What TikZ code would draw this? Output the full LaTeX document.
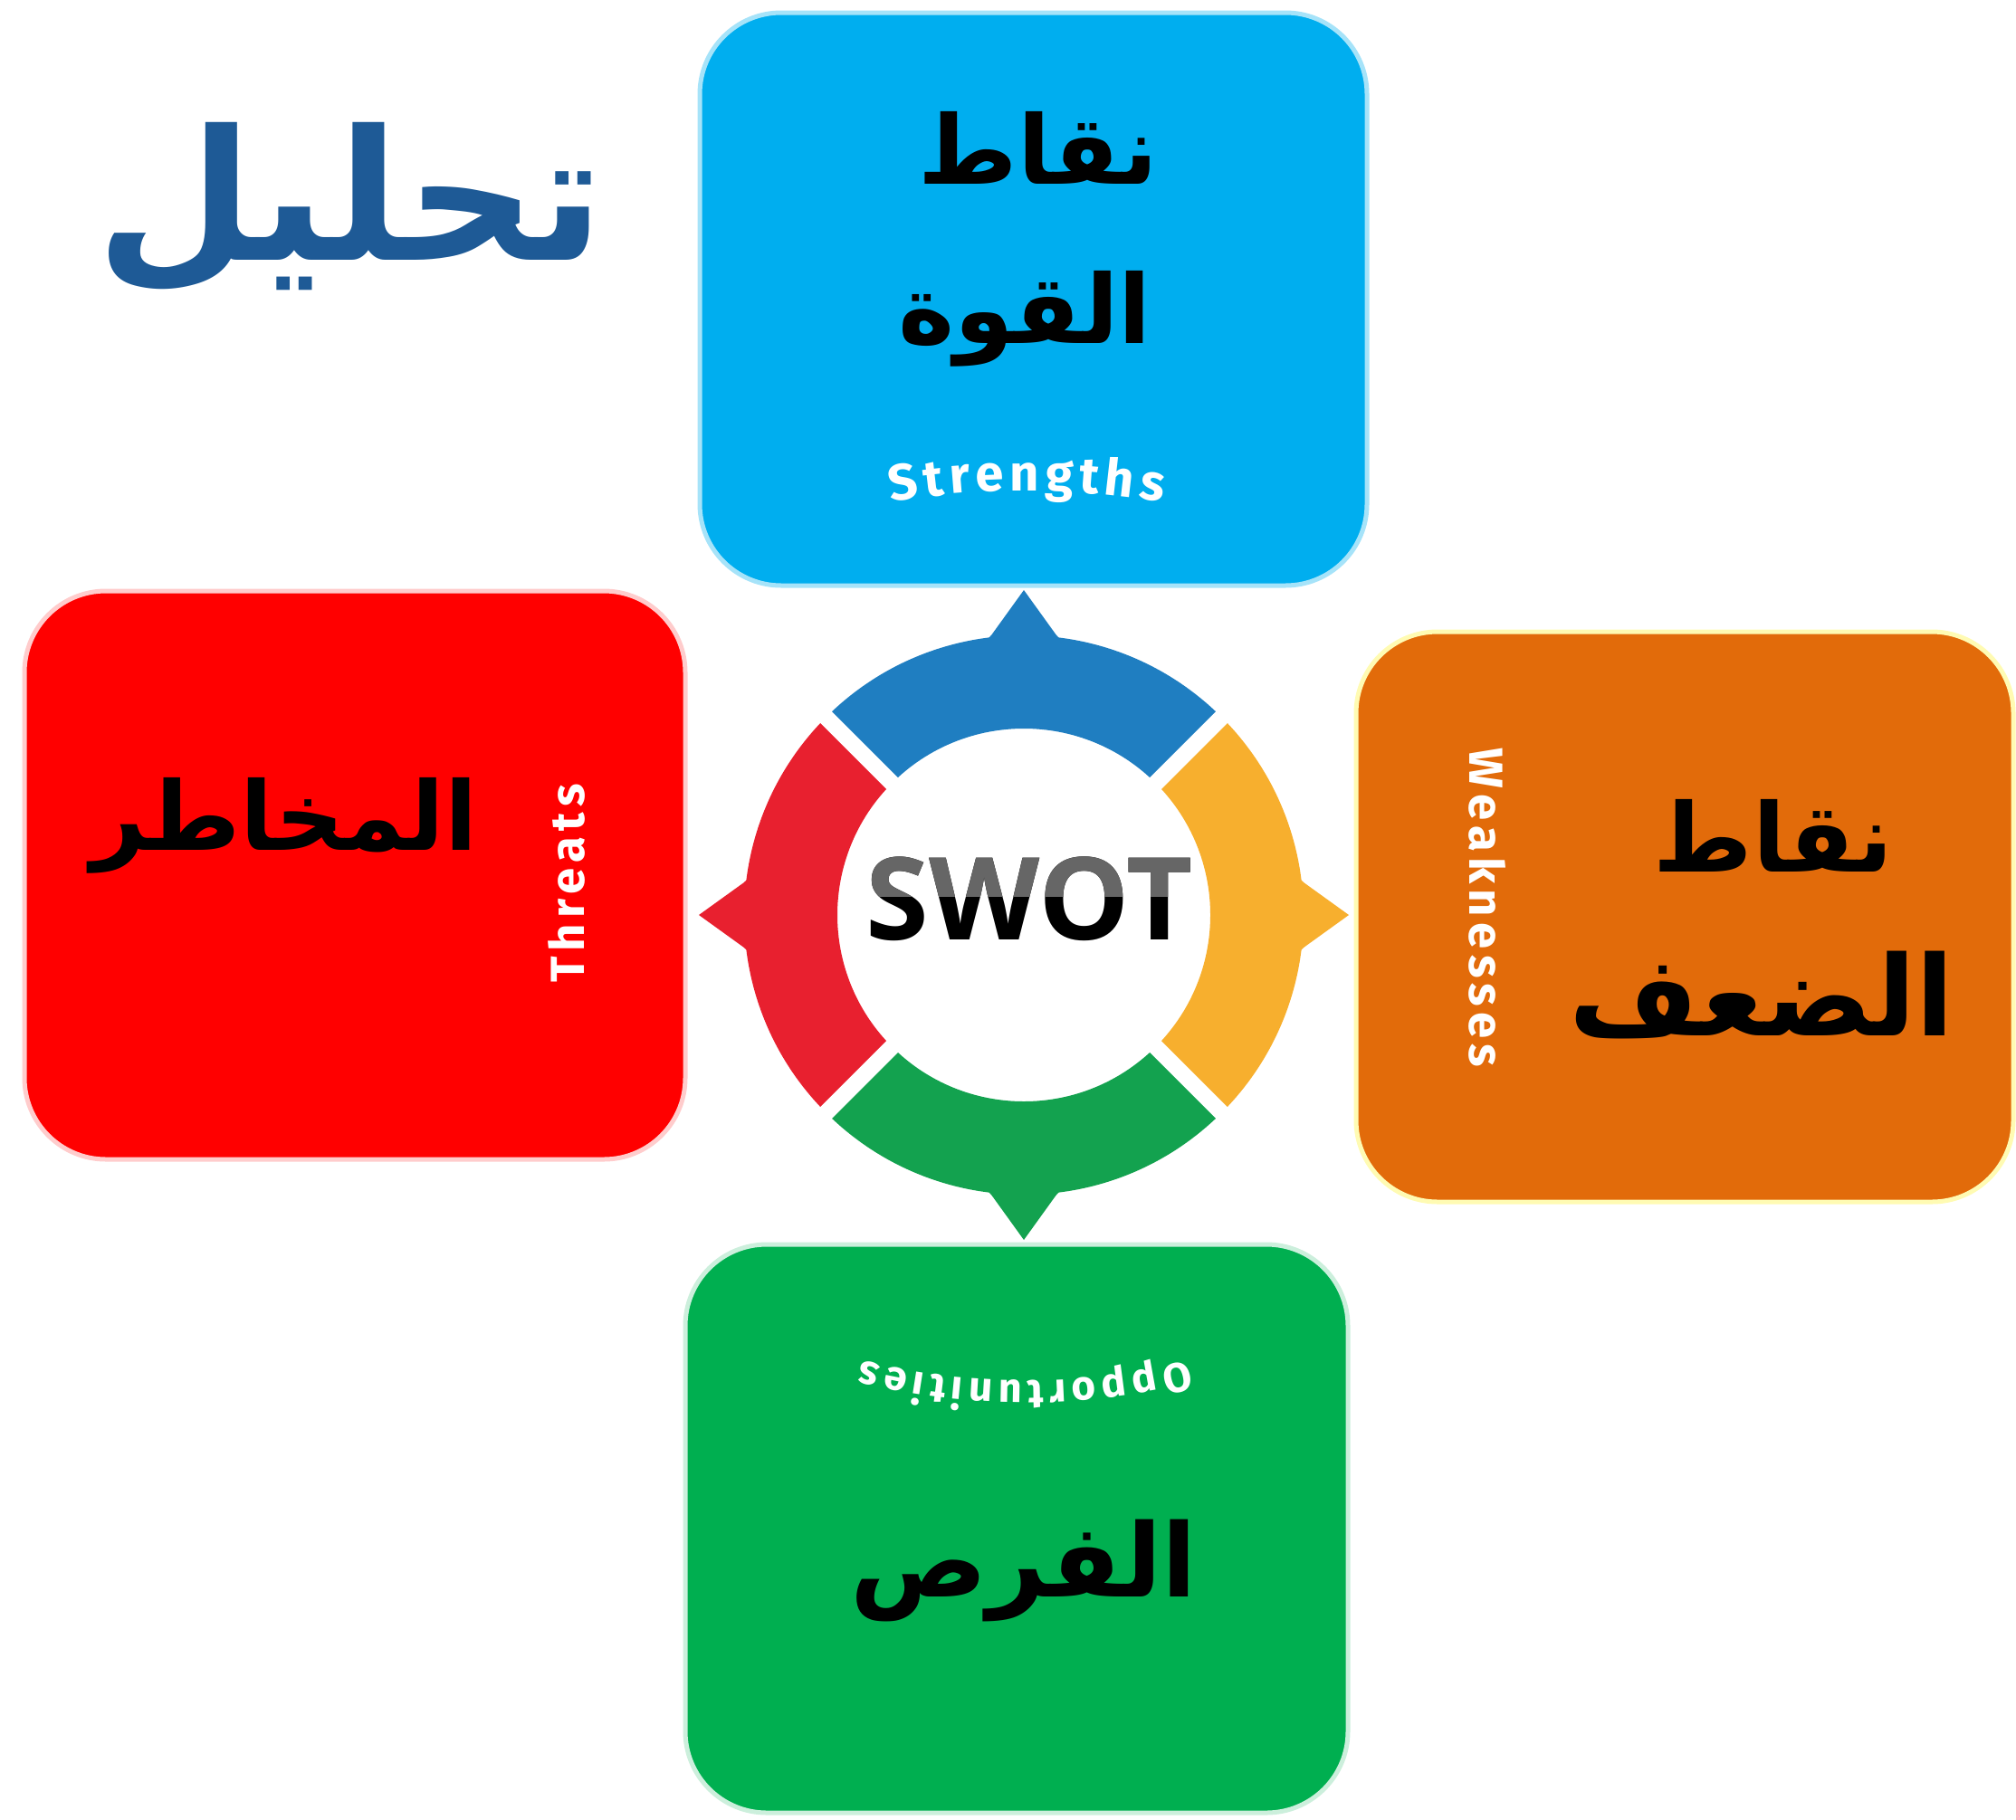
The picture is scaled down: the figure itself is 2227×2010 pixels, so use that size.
\documentclass[tikz,border=0pt]{standalone}
\usepackage{fontspec}
\usetikzlibrary{decorations.text}
\TeXXeTstate=1
\newfontfamily\arabicfont[Script=Arabic]{DejaVu Sans}
\newfontfamily\swotfont{Open Sans}
\newfontfamily\labelfont{Fira Sans}

\definecolor{titleblue}{HTML}{1E5A96}
\definecolor{boxblue}{HTML}{00AEEF}
\definecolor{boxred}{HTML}{FF0000}
\definecolor{boxorange}{HTML}{E26B0A}
\definecolor{boxgreen}{HTML}{00AF50}
\definecolor{ringblue}{HTML}{1F7EC1}
\definecolor{ringorange}{HTML}{F7AF2E}
\definecolor{ringgreen}{HTML}{13A24F}
\definecolor{ringred}{HTML}{E8202F}

\tikzset{
    swotbox/.style = {rounded corners = 9mm, line width = 0.5mm},
    arabic/.style = {font = \arabicfont\bfseries\fontsize{30}{34}\selectfont, text = black, inner sep = 0},
    latin/.style = {font = \labelfont\bfseries\fontsize{15}{18}\selectfont\addfontfeatures{LetterSpace=12}, text = white, inner sep = 0}
}

\begin{document}
\begin{tikzpicture}[x = 0.1mm, y = -0.1mm]
    \useasboundingbox (0,0) rectangle (2227,2010);
    % title
    \node[font = \arabicfont\bfseries\fontsize{57}{62}\selectfont, text = titleblue, inner sep = 0]
        (title) at (387,230) {\beginR تحليل\endR};
    % the four boxes
    \draw[swotbox, fill = boxblue, draw = boxblue!35!white] (773,14) rectangle (1510,647);
    \draw[swotbox, fill = boxred, draw = boxred!20!white] (27,653) rectangle (757,1281);
    \draw[swotbox, fill = boxorange, draw = yellow!30!white] (1498,698) rectangle (2224,1328);
    \draw[swotbox, fill = boxgreen, draw = boxgreen!20!white] (757,1375) rectangle (1489,2003);
    % ring
    \begin{scope}[shift = {(1131,1011)}]
        \fill[ringblue] (225:309) arc[start angle = 225, end angle = 315, radius = 309]
            -- (315:206) arc[start angle = 315, end angle = 225, radius = 206] -- cycle;
        \fill[ringorange] (-45:309) arc[start angle = -45, end angle = 45, radius = 309]
            -- (45:206) arc[start angle = 45, end angle = -45, radius = 206] -- cycle;
        \fill[ringgreen] (45:309) arc[start angle = 45, end angle = 135, radius = 309]
            -- (135:206) arc[start angle = 135, end angle = 45, radius = 206] -- cycle;
        \fill[ringred] (135:309) arc[start angle = 135, end angle = 225, radius = 309]
            -- (225:206) arc[start angle = 225, end angle = 135, radius = 206] -- cycle;
        \foreach \a/\c in {270/ringblue, 0/ringorange, 90/ringgreen, 180/ringred}
            \fill[\c] (\a-10:303) .. controls (\a-7.5:307) .. (\a-6.5:312) -- (\a:359)
                -- (\a+6.5:312) .. controls (\a+7.5:307) .. (\a+10:303) -- cycle;
        \foreach \a in {45, 135, 225, 315}
            \draw[white, line width = 1.8mm] (\a:190) -- (\a:330);
    \end{scope}
    % centre text
    \node[font = \swotfont\bfseries\fontsize{36}{40}\selectfont, text = black, inner sep = 0]
        (swot) at (1137,993) {SWOT};
    \begin{scope}
        \clip (900,930) rectangle (1380,990);
        \node[font = \swotfont\bfseries\fontsize{36}{40}\selectfont, text = black!60, inner sep = 0]
            (swottop) at (1137,993) {SWOT};
    \end{scope}
    % arabic labels
    \node[arabic] (strength1) at (1147,163) {\beginR نقاط\endR};
    \node[arabic] (strength2) at (1132,352) {\beginR القوة\endR};
    \node[arabic] (threat) at (314,912) {\beginR المخاطر\endR};
    \node[arabic] (weak1) at (1959,923) {\beginR نقاط\endR};
    \node[arabic, font = \arabicfont\bfseries\fontsize{35}{38}\selectfont] (weak2) at (1946,1100) {\beginR الضعف\endR};
    \node[arabic, font = \arabicfont\bfseries\fontsize{32}{36}\selectfont] (chance) at (1131,1735) {\beginR الفرص\endR};
    % english labels
    \path[decorate, decoration = {text along path, text align = {fit to path}, text color = white,
        text = {|\labelfont\bfseries\fontsize{16}{18}\selectfont|Strengths}}]
        (985,555) .. controls (1077,538) and (1187,538) .. (1284,555);
    \path[decorate, decoration = {text along path, text align = {fit to path}, text color = white,
        text = {|\labelfont\bfseries\fontsize{13}{15}\selectfont|Opportunities}}]
        (1312,1503) .. controls (1200,1533) and (1060,1533) .. (952,1503);
    \node[latin, rotate = 90] (threats) at (626,976) {Threats};
    \node[latin, rotate = -90] (weaks) at (1643,1003) {Weaknesses};
\end{tikzpicture}
\end{document}
